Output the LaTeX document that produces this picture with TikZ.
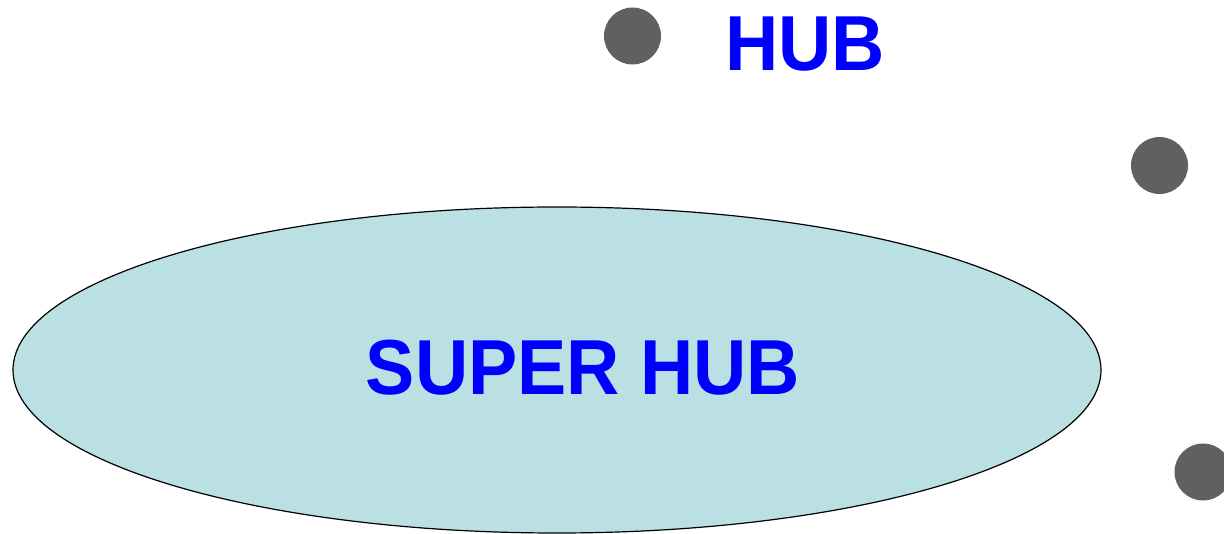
\documentclass[tikz,border=0pt]{standalone}
\usepackage{fontspec}
\setmainfont{Liberation Sans}
\usepackage{tikz}
\definecolor{hubfill}{RGB}{186,224,228}
\definecolor{dotgray}{RGB}{96,96,96}
\definecolor{labelblue}{RGB}{0,0,255}
\newcommand{\narrowtext}[1]{\scalebox{0.945}[1]{#1}}
\begin{document}
\begin{tikzpicture}[x=1pt,y=-1pt,
  dot/.style={circle,fill=dotgray,draw=none,minimum size=57pt,inner sep=0pt},
  label/.style={text=labelblue,font=\bfseries\fontsize{78}{80}\selectfont,inner sep=0pt,anchor=base}]
  \useasboundingbox (0,0) rectangle (1224,534);
  % the super hub
  \draw[fill=hubfill,line width=1.2pt] (557,370) ellipse [x radius=544, y radius=163];
  \node[label] (superhub) at (583,395) {\narrowtext{SUPER HUB}};
  % the hubs
  \node[dot] (h1) at (632.5,36) {};
  \node[dot] (h2) at (1159.5,165.5) {};
  \node[dot] (h3) at (1203,472) {};
  \node[label] (hublabel) at (805,71) {\narrowtext{HUB}};
\end{tikzpicture}
\end{document}
